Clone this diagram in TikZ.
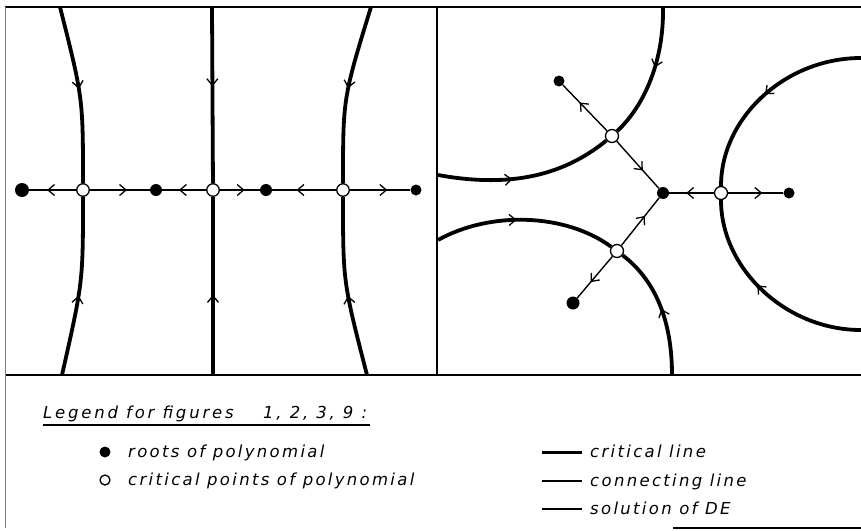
\documentclass[tikz,border=0pt]{standalone}
\usepackage{fontspec}
\setmainfont{DejaVu Sans}
\newfontfamily\legendfamily{DejaVu Sans}[LetterSpace=14]
\newfontfamily\titlefamily{DejaVu Sans}[LetterSpace=17]
\usetikzlibrary{arrows.meta,decorations.markings}
\tikzset{
  rootpt/.style={circle,fill=black,inner sep=0pt,minimum size=12pt},
  critpt/.style={circle,draw=black,fill=white,line width=1.3pt,inner sep=0pt,minimum size=12.5pt},
  critline/.style={line width=3.8pt},
  connline/.style={line width=1.4pt},
  frameline/.style={line width=1.6pt},
  legtext/.style={anchor=base west,inner sep=0pt,font=\legendfamily\itshape\fontsize{16.5}{19}\selectfont},
  titletext/.style={anchor=base west,inner sep=0pt,font=\titlefamily\itshape\fontsize{16.5}{19}\selectfont},
  midarrow/.style={postaction={decorate},decoration={markings,mark=at position #1 with {\arrow{Straight Barb[length=6.5pt,width=11pt,line width=1.3pt]}}}},
}
\begin{document}
\begin{tikzpicture}[x=1pt,y=-1pt]
\useasboundingbox (0,0) rectangle (861,530);
\fill[white] (0,0) rectangle (861,530);

% ---------- frame ----------
\draw[frameline] (5,7) -- (861,7);
\draw[frameline] (437,7) -- (437,375);
\draw[frameline] (5,375) -- (861,375);
\draw[line width=1pt,gray] (5,7) -- (5,528);
\draw[line width=1.2pt] (673,528) -- (861,528);

% ---------- left panel nodes ----------
\node[rootpt,minimum size=14pt] (L1) at (22,190) {};
\node[critpt] (C1) at (83,190) {};
\node[rootpt] (L2) at (156,190) {};
\node[critpt] (C2) at (213,190) {};
\node[rootpt] (L3) at (266,190) {};
\node[critpt] (C3) at (343,190) {};
\node[rootpt,minimum size=11pt] (L4) at (416,190) {};

\coordinate (T1) at (60,7);   \coordinate (B1) at (62,375);
\coordinate (T2) at (212,7);  \coordinate (B2) at (213,375);
\coordinate (T3) at (371,7);  \coordinate (B3) at (367,375);

% critical lines
\draw[critline,midarrow=0.47] (T1) .. controls (83,98) .. (C1);
\draw[critline,midarrow=0.45] (B1) .. controls (83,282) .. (C1);
\draw[critline,midarrow=0.45] (T2) -- (C2);
\draw[critline,midarrow=0.45] (B2) -- (C2);
\draw[critline,midarrow=0.47] (T3) .. controls (343,98) .. (C3);
\draw[critline,midarrow=0.45] (B3) .. controls (343,282) .. (C3);

% connecting lines
\draw[connline,midarrow=0.62] (C1) -- (L1);
\draw[connline,midarrow=0.62] (C1) -- (L2);
\draw[connline,midarrow=0.62] (C2) -- (L2);
\draw[connline,midarrow=0.62] (C2) -- (L3);
\draw[connline,midarrow=0.62] (C3) -- (L3);
\draw[connline,midarrow=0.62] (C3) -- (L4);

% ---------- right panel nodes ----------
\node[rootpt] (R0) at (663,193) {};
\node[critpt,minimum size=13pt] (D1) at (612,136) {};
\node[rootpt,minimum size=11pt] (R1) at (559,81) {};
\node[critpt,minimum size=13pt] (D2) at (617,251) {};
\node[rootpt,minimum size=13pt] (R2) at (573,303) {};
\node[critpt,minimum size=13pt] (D3) at (721,193) {};
\node[rootpt,minimum size=11pt] (R3) at (789,193) {};

\coordinate (UT) at (663,7);
\coordinate (UL) at (438,175);
\coordinate (LL) at (438,240);
\coordinate (LB) at (672,375);
\coordinate (RT) at (861,58);
\coordinate (RB) at (861,330);

\draw[critline,midarrow=0.45] (UT) .. controls (664,60) and (645,105) .. (D1);
\draw[critline,midarrow=0.42] (UL) .. controls (520,190) and (570,170) .. (D1);
\draw[critline,midarrow=0.45] (LL) .. controls (490,211) and (565,213) .. (D2);
\draw[critline,midarrow=0.5] (LB) .. controls (672,320) and (655,280) .. (D2);
\draw[critline,midarrow=0.5] (RT) .. controls (785,58) and (721,118) .. (D3);
\draw[critline,midarrow=0.55] (RB) .. controls (785,330) and (721,268) .. (D3);

\draw[connline,midarrow=0.62] (D1) -- (R1);
\draw[connline,midarrow=0.62] (D1) -- (R0);
\draw[connline,midarrow=0.62] (D2) -- (R0);
\draw[connline,midarrow=0.62] (D2) -- (R2);
\draw[connline,midarrow=0.62] (D3) -- (R0);
\draw[connline,midarrow=0.62] (D3) -- (R3);

% ---------- legend ----------
\node[titletext] (title) at (43,418) {Legend for figures};
\node[titletext] (titlenums) at (263,418) {1, 2, 3, 9 :};
\draw[line width=1.6pt] (43,425) -- (370,425);

\node[rootpt,minimum size=11pt] (kroot) at (105,452) {};
\node[critpt,minimum size=10pt] (kcrit) at (105,480) {};
\node[legtext] (troot) at (128,457) {roots of polynomial};
\node[legtext] (tcrit) at (128,485) {critical points of polynomial};

\coordinate (k1a) at (542,452); \coordinate (k1b) at (582,452);
\coordinate (k2a) at (542,481); \coordinate (k2b) at (582,481);
\coordinate (k3a) at (542,509); \coordinate (k3b) at (582,509);
\draw[line width=3pt] (k1a) -- (k1b);
\draw[line width=1.7pt] (k2a) -- (k2b);
\draw[line width=1.2pt] (k3a) -- (k3b);
\node[legtext] (tk1) at (590,457) {critical line};
\node[legtext] (tk2) at (590,486) {connecting line};
\node[legtext] (tk3) at (590,514) {solution of DE};
\end{tikzpicture}
\end{document}
